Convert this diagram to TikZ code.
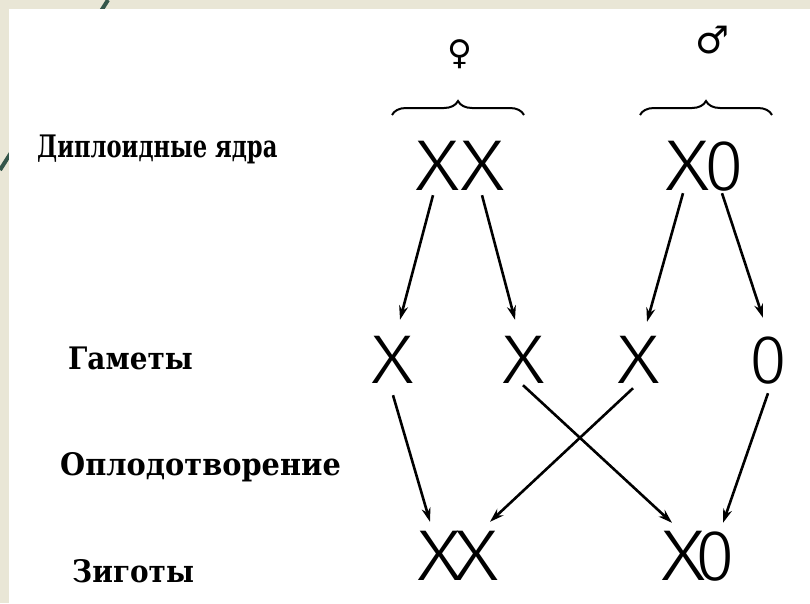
\documentclass[tikz,border=0pt]{standalone}
\usepackage{graphicx}
\usepackage{fontspec}
\setmainfont{DejaVu Serif}
\newfontfamily\chrfont{Fira Sans Light}
\newfontfamily\xfont{Fira Sans Light}[FakeStretch=1.2]
\newfontfamily\symfont{DejaVu Sans}
\usetikzlibrary{arrows.meta,decorations.pathreplacing}
\definecolor{frameclr}{HTML}{E9E6D6}
\definecolor{lineclr}{HTML}{34564A}
\newcommand{\chrX}{{\xfont X}}
\tikzset{
  lbl/.style={anchor=base west,inner sep=0pt,font=\bfseries\fontsize{31}{34}\selectfont},
  chr/.style={inner sep=0pt,text height=50pt,text depth=0pt,font=\chrfont\fontsize{72}{74}\selectfont},
  gam/.style={inner sep=0pt,text height=48pt,text depth=0pt,font=\chrfont\fontsize{69}{72}\selectfont},
  sexsym/.style={inner sep=0pt,font=\symfont\fontsize{34}{36}\selectfont},
  arr/.style={line width=2.6pt,-{Stealth[length=14pt,width=9pt]}},
  brc/.style={line width=2pt,decorate,decoration={brace,amplitude=14pt}}
}
\begin{document}
\begin{tikzpicture}[x=1pt,y=-1pt]
\useasboundingbox (0,0) rectangle (810,603);
\fill[frameclr] (0,0) rectangle (810,603);
\draw[lineclr,line width=4pt] (108,0) -- (0,170);
\fill[white] (9,9) rectangle (810,603);
% labels
\node[lbl] (l1) at (37,157) {\scalebox{0.73}[1]{Диплоидные ядра}};
\node[lbl] (l2) at (68,369) {\scalebox{0.9}[1]{Гаметы}};
\node[lbl] (l3) at (60,475) {\scalebox{0.93}[1]{Оплодотворение}};
\node[lbl] (l4) at (72,582) {\scalebox{0.9}[1]{Зиготы}};
% sex symbols
\node[sexsym] (fem) at (460,54) {♀};
\node[sexsym,font=\symfont\fontsize{38}{40}\selectfont] (mal) at (713,40) {♂};
% braces
\coordinate (b1a) at (392,115); \coordinate (b1b) at (524,115);
\coordinate (b2a) at (640,115); \coordinate (b2b) at (772,115);
\draw[brc] (b1a) -- (b1b);
\draw[brc] (b2a) -- (b2b);
% chromosomes
\node[chr] (XXa) at (460,165) {\chrX\kern0pt\chrX};
\node[chr] (X0a) at (705,165) {\chrX\kern-5pt 0};
\node[gam] (G1) at (393,359) {\chrX};
\node[gam] (G2) at (524,359) {\chrX};
\node[gam] (G3) at (639,359) {\chrX};
\node[gam] (G4) at (768,359) {0};
\node[chr] (XXb) at (458,555) {\chrX\kern-8pt\chrX};
\node[chr] (X0b) at (698,555) {\chrX\kern-10pt 0};
% arrows
\draw[arr] ([xshift=-27pt,yshift=-5pt]XXa.south) -- ([xshift=7pt,yshift=15pt]G1.north);
\draw[arr] ([xshift=22pt,yshift=-5pt]XXa.south) -- ([xshift=-9pt,yshift=15pt]G2.north);
\draw[arr] ([xshift=-22pt,yshift=-3pt]X0a.south) -- ([xshift=8pt,yshift=13pt]G3.north);
\draw[arr] ([xshift=17pt,yshift=-3pt]X0a.south) -- ([xshift=-5pt,yshift=17pt]G4.north);
\draw[arr] ([yshift=-12pt]G1.south) -- ([xshift=-28pt,yshift=8pt]XXb.north);
\draw[arr] ([xshift=-1pt,yshift=-2pt]G2.south) -- ([xshift=-26pt,yshift=7pt]X0b.north);
\draw[arr] ([xshift=-6pt,yshift=-5pt]G3.south) -- ([xshift=32pt,yshift=8pt]XXb.north);
\draw[arr] ([yshift=-10pt]G4.south) -- ([xshift=25pt,yshift=7pt]X0b.north);
\end{tikzpicture}
\end{document}
